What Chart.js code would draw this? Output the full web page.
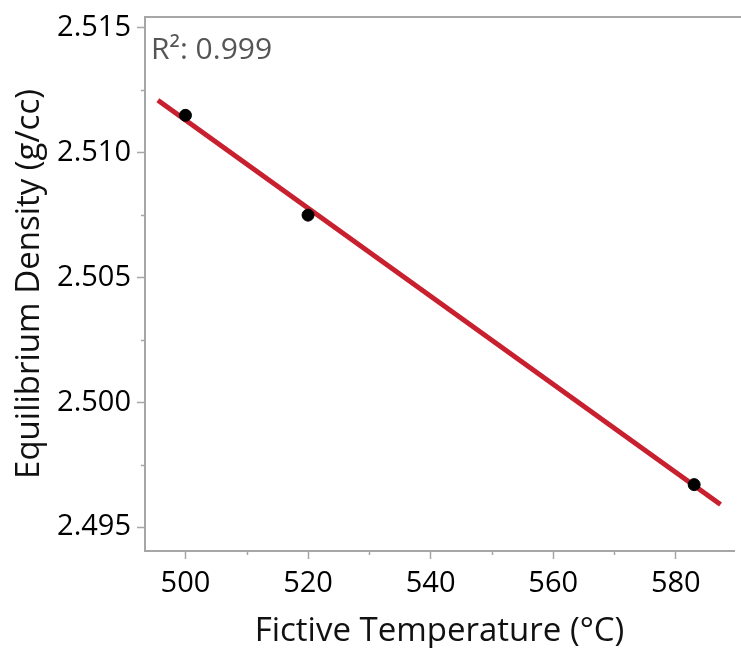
<!DOCTYPE html>
<html>
<head>
<meta charset="utf-8">
<script src="https://cdn.jsdelivr.net/npm/chart.js@4/dist/chart.umd.min.js"></script>
<style>
html,body{margin:0;padding:0;background:#fff;overflow:hidden;}
canvas{display:block;}
</style>
</head>
<body>
<canvas id="c"></canvas>
<script>
// Data
const tempX = [500, 520, 583];
const densityY = [2.5115, 2.5075, 2.4967];
const fitX = [495.5, 587.3];
const fitY = [2.5121, 2.4959];
const xTicks = [500, 510, 520, 530, 540, 550, 560, 570, 580];
const xLabelTicks = [500, 520, 540, 560, 580];
const yTicks = [2.495, 2.4975, 2.5, 2.5025, 2.505, 2.5075, 2.51, 2.5125, 2.515];
const yLabelTicks = [2.495, 2.5, 2.505, 2.51, 2.515];
const r2Text = 'R\u00B2: 0.999';
const xTitle = 'Fictive Temperature (\u00B0C)';
const yTitle = 'Equilibrium Density (g/cc)';

const FONT = "'Open Sans', 'Noto Sans', sans-serif";
const AXIS = '#a6a6a6';
const MINOR_LEN = 4;

const cv = document.getElementById('c');
cv.width = 741;
cv.height = 648;
cv.style.width = '741px';
cv.style.height = '648px';

const isLabel = (arr, v) => arr.some(a => Math.abs(a - v) < 1e-7);

const extras = {
  id: 'extras',
  afterDraw(chart) {
    const {ctx, chartArea} = chart;
    const xs = chart.scales.x, ys = chart.scales.y;
    ctx.save();
    ctx.strokeStyle = AXIS;
    ctx.lineWidth = 2;
    ctx.beginPath();
    ctx.moveTo(chartArea.left, chartArea.top);
    ctx.lineTo(chart.width, chartArea.top);
    ctx.stroke();
    // minor ticks (shorter)
    ctx.lineWidth = 1.5;
    ctx.beginPath();
    xTicks.filter(v => !isLabel(xLabelTicks, v)).forEach(v => {
      const px = Math.round(xs.getPixelForValue(v)) + 0.5;
      ctx.moveTo(px, chartArea.bottom);
      ctx.lineTo(px, chartArea.bottom + MINOR_LEN);
    });
    yTicks.filter(v => !isLabel(yLabelTicks, v)).forEach(v => {
      const py = Math.round(ys.getPixelForValue(v)) + 0.5;
      ctx.moveTo(chartArea.left, py);
      ctx.lineTo(chartArea.left - MINOR_LEN, py);
    });
    ctx.stroke();
    ctx.fillStyle = '#555555';
    ctx.font = "30px " + FONT;
    ctx.textBaseline = 'alphabetic';
    ctx.textAlign = 'left';
    ctx.fillText(r2Text, chartArea.left + 6, chartArea.top + 42);
    ctx.restore();
  }
};

const tickCol = labels => ctx => (ctx.tick && isLabel(labels, ctx.tick.value)) ? AXIS : 'rgba(0,0,0,0)';

new Chart(cv, {
  type: 'scatter',
  data: {
    datasets: [
      {
        label: 'data',
        data: tempX.map((x, i) => ({x: x, y: densityY[i]})),
        backgroundColor: '#000',
        borderColor: '#000',
        pointRadius: 6,
        pointHoverRadius: 6,
        showLine: false
      },
      {
        label: 'fit',
        data: fitX.map((x, i) => ({x: x, y: fitY[i]})),
        borderColor: '#c8202f',
        backgroundColor: '#c8202f',
        borderWidth: 5,
        pointRadius: 0,
        showLine: true,
        borderCapStyle: 'butt'
      }
    ]
  },
  options: {
    responsive: false,
    animation: false,
    devicePixelRatio: 1,
    layout: {padding: {top: 17, right: 0, left: 0, bottom: 0}},
    plugins: {legend: {display: false}, tooltip: {enabled: false}},
    scales: {
      x: {
        type: 'linear',
        min: 493.4,
        max: 589.5,
        afterBuildTicks(s) { s.ticks = xTicks.map(v => ({value: v})); },
        afterFit(s) { s.height = 97; s.paddingLeft = 0; s.paddingRight = 0; },
        border: {display: true, color: AXIS, width: 2},
        grid: {display: true, drawOnChartArea: false, drawTicks: true, tickLength: 8, tickColor: tickCol(xLabelTicks), tickWidth: 1.5},
        ticks: {
          color: '#000',
          font: {family: FONT, size: 29},
          padding: 7,
          maxRotation: 0,
          autoSkip: false,
          callback: v => isLabel(xLabelTicks, v) ? String(v) : ''
        },
        title: {display: true, text: xTitle, color: '#111', font: {family: FONT, size: 33, lineHeight: 1.0}, padding: {top: 0, bottom: 0}}
      },
      y: {
        type: 'linear',
        min: 2.49404,
        max: 2.51544,
        afterBuildTicks(s) { s.ticks = yTicks.map(v => ({value: v})); },
        afterFit(s) { s.width = 145; s.paddingTop = 0; s.paddingBottom = 0; },
        border: {display: true, color: AXIS, width: 2},
        grid: {display: true, drawOnChartArea: false, drawTicks: true, tickLength: 8, tickColor: tickCol(yLabelTicks), tickWidth: 1.5},
        ticks: {
          color: '#000',
          font: {family: FONT, size: 29},
          padding: 6,
          autoSkip: false,
          callback: v => isLabel(yLabelTicks, v) ? v.toFixed(3) : ''
        },
        title: {display: true, text: yTitle, color: '#111', font: {family: FONT, size: 33, lineHeight: 1.0}, padding: {top: 13, bottom: 0}}
      }
    }
  },
  plugins: [extras]
});
</script>
</body>
</html>
